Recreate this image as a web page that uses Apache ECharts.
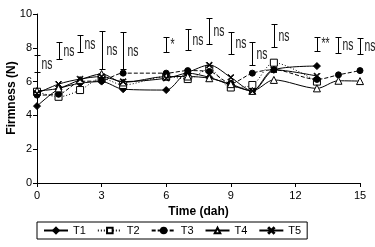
<!DOCTYPE html>
<html>
<head>
<meta charset="utf-8">
<script src="https://cdn.jsdelivr.net/npm/echarts@6/dist/echarts.min.js"></script>
<style>
html,body{margin:0;padding:0;background:#fff;}
#chart{width:375px;height:247px;}
</style>
</head>
<body>
<div id="chart"></div>
<script>
// ---- data ----
const days = [0, 1, 2, 3, 4, 6, 7, 8, 9, 10, 11, 13, 14, 15];
const T1 = [4.55, 5.55, 5.9, 6.0, 5.55, 5.5, 6.5, 6.25, 5.8, 5.45, 6.7, 6.92, null, null];
const T2 = [5.4, 5.1, 5.5, 6.2, 5.8, 6.3, 6.15, 6.75, 5.65, 5.8, 7.12, 6.0, null, null];
const T3 = [5.2, 5.25, 6.0, 6.05, 6.5, 6.5, 6.65, 6.6, 5.9, 6.5, 6.7, 6.13, 6.4, 6.65];
const T4 = [5.45, 5.6, 6.1, 6.45, 5.95, 6.3, 6.3, 6.2, 5.85, 5.45, 6.1, 5.6, 6.05, 6.03];
const T5 = [5.3, 5.85, 6.15, 6.3, 6.0, 6.2, 6.55, 6.98, 6.25, 5.45, 6.7, 6.33, null, null];
const errLow  = [6.57, 7.34, 7.75, 6.75, 6.75, 7.75, 7.87, 8.22, 7.63, 6.98, 8.05, 7.81, 7.69, 7.63];
const errHigh = [7.57, 8.34, 8.76, 9.0, 8.93, 8.64, 9.1, 9.76, 8.93, 8.34, 9.4, 8.64, 8.64, 8.58];
const sigLabels = ['ns', 'ns', 'ns', 'ns', 'ns', '*', 'ns', 'ns', 'ns', 'ns', 'ns', '**', 'ns', 'ns'];
const seriesNames = ['T1', 'T2', 'T3', 'T4', 'T5'];
const xTicks = {min: 0, max: 15, interval: 3};
const yTicks = {min: 0, max: 10, interval: 2};
const yTitle = 'Firmness (N)';
const xTitle = 'Time (dah)';

const FONT = "'Liberation Sans Narrow', 'Arial Narrow', 'Liberation Sans', sans-serif";
const values = [T1, T2, T3, T4, T5];
const pairs = v => days.map((d, i) => v[i] == null ? null : [d, v[i]]).filter(p => p);

const styles = [
  {symbol: 'diamond', size: 7, fill: '#000', line: 'solid'},
  {symbol: 'rect', size: 7, fill: '#fff', line: [1, 2]},
  {symbol: 'circle', size: 6, fill: '#000', line: [4, 2]},
  {symbol: 'triangle', size: 7, fill: '#fff', line: 'solid'},
  {symbol: 'path://M0,1L1,0L5,4L9,0L10,1L6,5L10,9L9,10L5,6L1,10L0,9L4,5Z', size: 6, fill: '#000', line: 'solid'}
];

const lineSeries = seriesNames.map((name, k) => ({
  name: name,
  type: 'line',
  data: pairs(values[k]),
  smooth: 0.3,
  symbol: styles[k].symbol,
  symbolSize: styles[k].size,
  showAllSymbol: true,
  lineStyle: {color: '#000', width: 1, type: styles[k].line},
  itemStyle: {color: styles[k].fill, borderColor: '#000', borderWidth: 1},
  emphasis: {disabled: true},
  z: 3
}));

const errSeries = {
  type: 'custom',
  name: 'sig',
  data: days.map((d, i) => [d, errLow[i], errHigh[i]]),
  encode: {x: 0, y: [1, 2]},
  z: 2,
  renderItem: function (params, api) {
    const x = api.value(0), lo = api.value(1), hi = api.value(2);
    const p1 = api.coord([x, lo]), p2 = api.coord([x, hi]);
    const px = Math.round(p1[0]) + 0.5;
    const y1 = Math.round(p1[1]) + 0.5, y2 = Math.round(p2[1]) + 0.5;
    const cap = 3;
    const st = {stroke: '#000', lineWidth: 1};
    return {
      type: 'group',
      children: [
        {type: 'line', shape: {x1: px, y1: y1, x2: px, y2: y2}, style: st},
        {type: 'line', shape: {x1: px - cap, y1: y1, x2: px + cap, y2: y1}, style: st},
        {type: 'line', shape: {x1: px - cap, y1: y2, x2: px + cap, y2: y2}, style: st},
        {type: 'text', x: px + 4, y: (y1 + y2) / 2, scaleX: 0.8, scaleY: 1.3,
          style: {
            text: sigLabels[params.dataIndex], x: 0, y: 0,
            verticalAlign: 'middle', align: 'left',
            font: '13px ' + FONT, fill: '#222'
          }}
      ]
    };
  }
};

const chart = echarts.init(document.getElementById('chart'), null, {renderer: 'canvas'});
chart.setOption({
  animation: false,
  backgroundColor: '#fff',
  textStyle: {fontFamily: FONT},
  grid: {left: 37, right: 15, top: 14, bottom: 64, containLabel: false, outerBoundsMode: 'none'},
  xAxis: {
    type: 'value', min: xTicks.min, max: xTicks.max, interval: xTicks.interval,
    name: xTitle, nameLocation: 'middle', nameGap: 22,
    nameTextStyle: {fontFamily: FONT, fontSize: 12, fontWeight: 'bold', color: '#000'},
    axisLine: {lineStyle: {color: '#000', width: 1}},
    axisTick: {show: true, length: 4, lineStyle: {color: '#000'}},
    axisLabel: {fontFamily: FONT, fontSize: 11, color: '#000', margin: 7},
    splitLine: {show: false}
  },
  yAxis: {
    type: 'value', min: yTicks.min, max: yTicks.max, interval: yTicks.interval,
    axisLine: {show: true, lineStyle: {color: '#000', width: 1}},
    axisTick: {show: true, length: 4, lineStyle: {color: '#000'}},
    axisLabel: {fontFamily: FONT, fontSize: 11, color: '#000', margin: 5},
    splitLine: {show: false}
  },
  graphic: [{
    type: 'text', x: 12, y: 98, rotation: Math.PI / 2,
    style: {
      text: yTitle, align: 'center', verticalAlign: 'middle',
      font: 'bold 12px ' + FONT, fill: '#000'
    }
  }],
  legend: {
    data: seriesNames,
    left: 37, top: 222,
    orient: 'horizontal',
    itemWidth: 24, itemHeight: 7, itemGap: 11,
    padding: [3, 6],
    borderColor: '#000', borderWidth: 1,
    textStyle: {fontFamily: FONT, fontSize: 11, color: '#000', padding: [0, 0, 0, 0]},
    selectedMode: false
  },
  series: lineSeries.concat([errSeries])
});
</script>
</body>
</html>
